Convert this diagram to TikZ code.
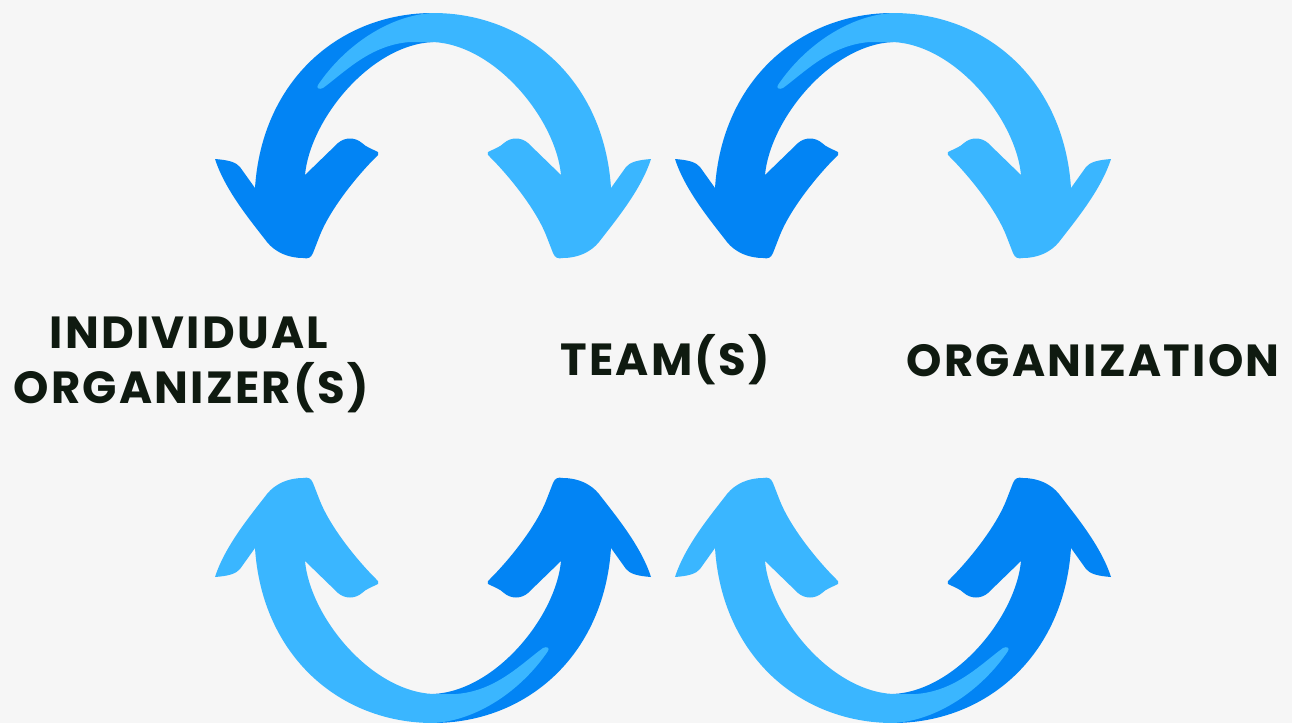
\documentclass[tikz,border=0pt]{standalone}
\usepackage{fontspec}
\newfontfamily\lblfont{Poppins}[LetterSpace=5]
\definecolor{bg}{HTML}{F6F6F6}
\definecolor{darkblue}{HTML}{0284F4}
\definecolor{lightblue}{HTML}{3AB6FF}
\definecolor{ink}{HTML}{0F1A10}
\tikzset{
  lbl/.style={anchor=base, inner sep=0pt, text=ink, font=\lblfont\bfseries\fontsize{22.5}{26}\selectfont},
  darkarrow/.style={fill=darkblue, draw=none},
  lightarrow/.style={fill=lightblue, draw=none}
}
\newcommand{\arrowpair}{%
  % dark arrow, pointing down-left
  \path[darkarrow] (255,188)
    .. controls (262,80) and (340,13) .. (433,13)
    -- (433,42)
    .. controls (370,45) and (310,120) .. (305,175)
    -- (338,143)
    .. controls (345,137) and (355,137) .. (362,143)
    .. controls (366,147) and (372,149) .. (378,152)
    .. controls (379,154) and (378,156) .. (376,157)
    .. controls (355,178) and (330,210) .. (320,235)
    -- (313,253)
    .. controls (311,258) and (308,259) .. (303,258)
    .. controls (288,258) and (275,252) .. (267,242)
    .. controls (250,220) and (225,190) .. (215,159)
    .. controls (228,160) and (236,162) .. (240,167)
    -- cycle;
  % light arrow, pointing down-right, tail over the dark one
  \path[lightarrow] (611,188)
    .. controls (604,80) and (526,13) .. (433,13)
    .. controls (390,15) and (345,45) .. (318,85)
    .. controls (316,88) and (319,90) .. (323,88)
    .. controls (345,72) and (370,45) .. (410,42)
    -- (433,42)
    .. controls (496,45) and (556,120) .. (561,175)
    -- (528,143)
    .. controls (521,137) and (511,137) .. (504,143)
    .. controls (500,147) and (494,149) .. (488,152)
    .. controls (487,154) and (488,156) .. (490,157)
    .. controls (511,178) and (536,210) .. (546,235)
    -- (553,253)
    .. controls (555,258) and (558,259) .. (563,258)
    .. controls (578,258) and (591,252) .. (599,242)
    .. controls (616,220) and (641,190) .. (651,159)
    .. controls (638,160) and (630,162) .. (626,167)
    -- cycle;
}
\begin{document}
\begin{tikzpicture}[x=0.5pt, y=-0.5pt]
  \path[use as bounding box, fill=bg] (0,0) rectangle (1292,723);
  % top-left pair
  \begin{scope}\arrowpair\end{scope}
  % top-right pair
  \begin{scope}[shift={(460,0)}]\arrowpair\end{scope}
  % bottom-left pair
  \begin{scope}[rotate around={180:(433,368)}]\arrowpair\end{scope}
  % bottom-right pair
  \begin{scope}[shift={(460,0)}]
    \begin{scope}[rotate around={180:(433,368)}]\arrowpair\end{scope}
  \end{scope}
  % labels
  \node[lbl] (ind1) at (189,348) {INDIVIDUAL};
  \node[lbl] (ind2) at (191,403) {ORGANIZER(S)};
  \node[lbl] (team) at (665,375) {TEAM(S)};
  \node[lbl] (org) at (1093,376) {ORGANIZATION};
\end{tikzpicture}
\end{document}
